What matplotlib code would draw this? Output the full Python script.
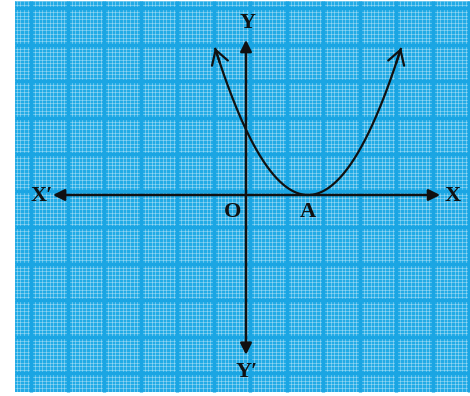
"""Parabola touching the x-axis at A, drawn on blue graph paper."""
import numpy as np
import matplotlib

matplotlib.use("Agg")
import matplotlib.pyplot as plt  # noqa: E402
from matplotlib.patches import Rectangle  # noqa: E402

# units: one major grid square, origin at O
paper_x = [-6.33, 6.14]
paper_y = [-5.40, 5.32]
grid_offset_x = 0.12
grid_offset_y = 0.11

x_axis_ends = [-5.29, 5.32]
y_axis_ends = [-4.38, 4.25]

# y = coef * (x - vertex_x)^2, touches the x-axis at A
vertex_x = 1.7
coef = 0.62
curve_x_range = [-0.85, 4.25]

labels = ["X\u2032", "X", "Y", "Y\u2032", "O", "A"]
label_x = [-5.60, 5.67, 0.03, 0.03, -0.38, 1.70]
label_y = [-0.03, -0.03, 4.72, -4.85, -0.47, -0.47]

PAPER = "#22abe6"
MAJOR = "#1aa5e3"
INK = "#111111"

fig = plt.figure(figsize=(4.70, 3.96), dpi=100)
ax = fig.add_axes([0, 0, 1, 1])
ax.set_xlim(-246 / 36.5, 224 / 36.5)
ax.set_ylim(-201 / 36.5, 195 / 36.5)
ax.axis("off")

# graph paper
ax.add_patch(Rectangle((paper_x[0], paper_y[0]), paper_x[1] - paper_x[0],
                       paper_y[1] - paper_y[0], color=PAPER, zorder=0, lw=0))
fine_x = np.arange(np.floor(paper_x[0]) - 1, paper_x[1] + 1, 0.1) + grid_offset_x
fine_y = np.arange(np.floor(paper_y[0]) - 1, paper_y[1] + 1, 0.1) + grid_offset_y
fine_x = fine_x[(fine_x > paper_x[0]) & (fine_x < paper_x[1])]
fine_y = fine_y[(fine_y > paper_y[0]) & (fine_y < paper_y[1])]
ax.vlines(fine_x, paper_y[0], paper_y[1], color="white", lw=0.6, alpha=0.38, zorder=1)
ax.hlines(fine_y, paper_x[0], paper_x[1], color="white", lw=0.6, alpha=0.38, zorder=1)
major_x = fine_x[np.isclose((fine_x - grid_offset_x) % 1, 0, atol=1e-6)
                 | np.isclose((fine_x - grid_offset_x) % 1, 1, atol=1e-6)]
major_y = fine_y[np.isclose((fine_y - grid_offset_y) % 1, 0, atol=1e-6)
                 | np.isclose((fine_y - grid_offset_y) % 1, 1, atol=1e-6)]
ax.vlines(major_x, paper_y[0], paper_y[1], color=MAJOR, lw=2.4, zorder=2)
ax.hlines(major_y, paper_x[0], paper_x[1], color=MAJOR, lw=2.4, zorder=2)

# axes with arrowheads
axis_style = dict(arrowstyle="<|-|>", color=INK, lw=1.8, mutation_scale=17,
                  shrinkA=0, shrinkB=0)
ax.annotate("", xy=(x_axis_ends[1], 0), xytext=(x_axis_ends[0], 0),
            arrowprops=axis_style, zorder=3)
ax.annotate("", xy=(0, y_axis_ends[1]), xytext=(0, y_axis_ends[0]),
            arrowprops=axis_style, zorder=3)

# parabola
xs = np.linspace(curve_x_range[0], curve_x_range[1], 300)
ys = coef * (xs - vertex_x) ** 2
ax.plot(xs, ys, color=INK, lw=1.6, zorder=4, solid_capstyle="butt")
curve_style = dict(arrowstyle="->,head_length=0.5,head_width=0.3", color=INK,
                   lw=1.6, mutation_scale=20, shrinkA=0, shrinkB=0)
ax.annotate("", xy=(xs[0], ys[0]), xytext=(xs[8], ys[8]),
            arrowprops=curve_style, zorder=4)
ax.annotate("", xy=(xs[-1], ys[-1]), xytext=(xs[-9], ys[-9]),
            arrowprops=curve_style, zorder=4)

for t, lx, ly in zip(labels, label_x, label_y):
    ax.text(lx, ly, t, ha="center", va="center", fontsize=16, fontweight="bold",
            family=["Liberation Serif", "DejaVu Serif"], color=INK, zorder=5)

fig.savefig("out.png", dpi=100)
